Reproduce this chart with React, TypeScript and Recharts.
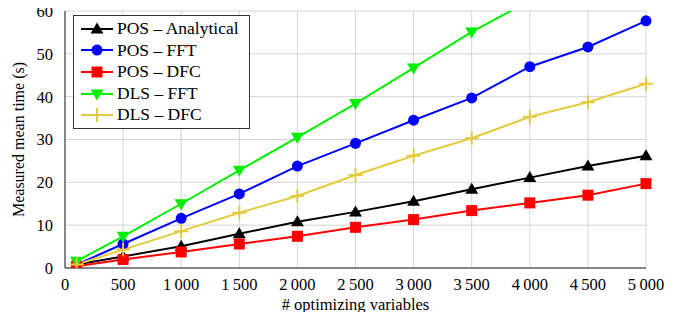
import React from 'react';
import { LineChart, Line, XAxis, YAxis, CartesianGrid } from 'recharts';

const xValues = [100, 500, 1000, 1500, 2000, 2500, 3000, 3500, 4000, 4500, 5000];
const posAnalytical = [0.8, 2.7, 5.1, 8.0, 10.8, 13.1, 15.6, 18.4, 21.1, 23.8, 26.2];
const posFft = [0.8, 5.6, 11.6, 17.3, 23.8, 29.1, 34.5, 39.7, 47.0, 51.6, 57.7];
const posDfc = [0.4, 2.0, 3.75, 5.6, 7.4, 9.5, 11.3, 13.4, 15.2, 17.0, 19.7];
const dlsFft = [1.6, 7.4, 15.0, 22.8, 30.5, 38.4, 46.7, 55.1, 62.4, null, null];
const dlsDfc = [0.8, 4.3, 8.6, 12.9, 16.8, 21.7, 26.2, 30.3, 35.3, 38.7, 43.0];

const xTicks = [0, 500, 1000, 1500, 2000, 2500, 3000, 3500, 4000, 4500, 5000];
const yTicks = [0, 10, 20, 30, 40, 50, 60];

const FONT = '"Liberation Serif", serif';
const YELLOW = '#e2cb3e';

const SERIES = [
    { key: 'posAnalytical', name: 'POS \u2013 Analytical', color: '#000000', shape: 'triangle' },
    { key: 'posFft', name: 'POS \u2013 FFT', color: '#0000ff', shape: 'circle' },
    { key: 'posDfc', name: 'POS \u2013 DFC', color: '#ff0000', shape: 'square' },
    { key: 'dlsFft', name: 'DLS \u2013 FFT', color: '#00ee00', shape: 'triangleDown' },
    { key: 'dlsDfc', name: 'DLS \u2013 DFC', color: YELLOW, shape: 'plus' },
];

const data = xValues.map((x, i) => ({
    x,
    posAnalytical: posAnalytical[i],
    posFft: posFft[i],
    posDfc: posDfc[i],
    dlsFft: dlsFft[i],
    dlsDfc: dlsDfc[i],
}));

function Marker({ shape, color, cx, cy }: { shape: string; color: string; cx: number; cy: number }) {
    if (shape === 'circle') return <circle cx={cx} cy={cy} r={5.5} fill={color} />;
    if (shape === 'square') return <rect x={cx - 5.5} y={cy - 5.5} width={11} height={11} fill={color} />;
    if (shape === 'triangle') return <path d={`M${cx},${cy - 6.5} L${cx + 6.5},${cy + 4.5} L${cx - 6.5},${cy + 4.5} Z`} fill={color} />;
    if (shape === 'triangleDown') return <path d={`M${cx},${cy + 6.5} L${cx + 6.5},${cy - 4.5} L${cx - 6.5},${cy - 4.5} Z`} fill={color} />;
    return (
        <path d={`M${cx - 7},${cy} L${cx + 7},${cy} M${cx},${cy - 7} L${cx},${cy + 7}`} stroke={color} strokeWidth={2} fill="none" />
    );
}

function makeDot(shape: string, color: string) {
    return (props: any) => {
        const { cx, cy, value, index } = props;
        if (value == null || value > 60 || cx == null || cy == null) return <g key={`d-${index}`} />;
        return <g key={`d-${index}`}><Marker shape={shape} color={color} cx={cx} cy={cy} /></g>;
    };
}

function LegendBox() {
    return (
        <div style={{
            position: 'absolute',
            left: 73,
            top: 15,
            width: 177,
            boxSizing: 'border-box',
            background: '#fff',
            border: '1px solid #333',
            padding: '2px 0 2px 6px',
            fontFamily: FONT,
            fontSize: 17.5,
            color: '#000',
            lineHeight: '21.6px',
        }}>
            {SERIES.map((s) => (
                <div key={s.key} style={{ display: 'flex', alignItems: 'center' }}>
                    <svg width={34} height={16} style={{ marginRight: 3 }}>
                        <line x1={1} y1={8} x2={33} y2={8} stroke={s.color} strokeWidth={2} />
                        <Marker shape={s.shape} color={s.color} cx={17} cy={8} />
                    </svg>
                    <span>{s.name}</span>
                </div>
            ))}
        </div>
    );
}

export default function App() {
    return (
        <div style={{ position: 'relative', margin: -8, width: 686, height: 320, background: '#fff' }}>
            <LineChart width={686} height={320} data={data} margin={{ top: 11, right: 40, left: 0, bottom: 0 }}>
                <CartesianGrid stroke="#d4d4d4" strokeDasharray="" />
                <XAxis
                    dataKey="x"
                    type="number"
                    domain={[0, 5000]}
                    ticks={xTicks}
                    tickFormatter={(v: number) => (v >= 1000 ? `${Math.floor(v / 1000)}\u2009${String(v % 1000).padStart(3, '0')}` : `${v}`)}
                    interval={0}
                    height={52}
                    stroke="#222"
                    tickLine={false}
                    tickMargin={4}
                    tick={{ fontFamily: FONT, fontSize: 16.5, fill: '#000' }}
                    label={{ value: '# optimizing variables', position: 'insideBottom', offset: 10, style: { fontFamily: FONT, fontSize: 16.5, fill: '#000' } }}
                />
                <YAxis
                    type="number"
                    domain={[0, 60]}
                    ticks={yTicks}
                    allowDataOverflow
                    width={65}
                    stroke="#222"
                    tickLine={false}
                    tickMargin={6}
                    tick={{ fontFamily: FONT, fontSize: 16.5, fill: '#000' }}
                    label={{ value: 'Measured mean time (s)', angle: -90, position: 'insideLeft', offset: 18, style: { textAnchor: 'middle', fontFamily: FONT, fontSize: 16, fill: '#000' } }}
                />
                {SERIES.map((s) => (
                    <Line
                        key={s.key}
                        dataKey={s.key}
                        name={s.name}
                        stroke={s.color}
                        strokeWidth={2}
                        dot={makeDot(s.shape, s.color)}
                        activeDot={false}
                        connectNulls={false}
                        isAnimationActive={false}
                    />
                ))}
            </LineChart>
            <LegendBox />
        </div>
    );
}
